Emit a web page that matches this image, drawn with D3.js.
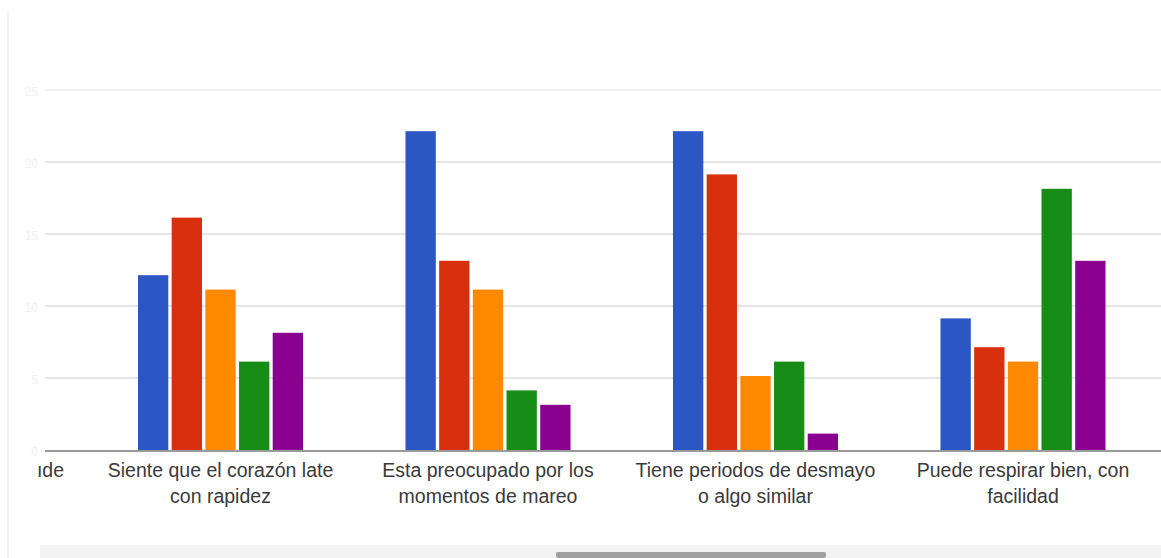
<!DOCTYPE html>
<html>
<head>
<meta charset="utf-8">
<script src="https://cdn.jsdelivr.net/npm/d3@7"></script>
<style>
  html, body { margin: 0; padding: 0; background: #fff; }
  svg { display: block; }
</style>
</head>
<body>
<svg id="chart" width="1161" height="558"></svg>
<script>
// ---- data ----
const categories = ["prev", "Siente", "Esta", "Tiene", "Puede"];
const categoryLabels = [
  ["ıde"],
  ["Siente que el corazón late", "con rapidez"],
  ["Esta preocupado por los", "momentos de mareo"],
  ["Tiene periodos de desmayo", "o algo similar"],
  ["Puede respirar bien, con", "facilidad"]
];
const seriesNames = ["s1", "s2", "s3", "s4", "s5"];
const seriesColors = ["#2b57c5", "#d8300f", "#ff8a00", "#178c17", "#8a0090"];
const s1 = [null, 12, 22, 22, 9];
const s2 = [null, 16, 13, 19, 7];
const s3 = [null, 11, 11, 5, 6];
const s4 = [null, 6, 4, 6, 18];
const s5 = [null, 8, 3, 1, 13];
const seriesValues = [s1, s2, s3, s4, s5];
const yTicks = [0, 5, 10, 15, 20, 25];

// ---- layout ----
const svg = d3.select("#chart");
const W = 1161, H = 558;
const plotLeft = 45, plotRight = 1161, baseY = 450, topY = 90;

const x0 = d3.scaleBand().domain(categories)
  .range([-180.75, 1156.75]).paddingInner(0.383).paddingOuter(0.1915);
const x1 = d3.scaleBand().domain(seriesNames)
  .range([0, x0.bandwidth()]).paddingInner(0.1);
const y = d3.scaleLinear().domain([0, 25]).range([baseY, topY]);

// frame line at left
svg.append("line").attr("x1", 8).attr("x2", 8).attr("y1", 12).attr("y2", H)
  .attr("stroke", "#f1f1f1").attr("stroke-width", 1.5);

// gridlines
const grid = svg.append("g");
grid.selectAll("line").data(yTicks.filter(d => d > 0)).join("line")
  .attr("x1", plotLeft).attr("x2", plotRight)
  .attr("y1", d => y(d)).attr("y2", d => y(d))
  .attr("stroke", d => d === 25 ? "#f0f0f0" : "#e6e6e6")
  .attr("stroke-width", 2);

// faint y labels
svg.append("g").selectAll("text").data(yTicks).join("text")
  .attr("x", 38).attr("y", d => y(d) + 6)
  .attr("text-anchor", "end")
  .attr("font-family", "Liberation Sans, Arial, sans-serif")
  .attr("font-size", 12).attr("fill", "#f0f0f0")
  .text(d => d);

// bars
const defs = svg.append("defs");
defs.append("clipPath").attr("id", "plotclip")
  .append("rect").attr("x", plotLeft).attr("y", 0).attr("width", plotRight - plotLeft).attr("height", H);

const barsG = svg.append("g").attr("clip-path", "url(#plotclip)");
categories.forEach((c, ci) => {
  const g = barsG.append("g").attr("transform", `translate(${x0(c)},0)`);
  seriesNames.forEach((s, si) => {
    const v = seriesValues[si][ci];
    if (v == null) return;
    g.append("rect")
      .attr("x", x1(s)).attr("width", x1.bandwidth())
      .attr("y", y(v) - 2).attr("height", y(0) - y(v) + 2)
      .attr("fill", seriesColors[si]);
  });
});

// baseline
svg.append("line").attr("x1", plotLeft).attr("x2", plotRight)
  .attr("y1", baseY + 1).attr("y2", baseY + 1)
  .attr("stroke", "#9a9a9a").attr("stroke-width", 2);

// category labels
defs.append("clipPath").attr("id", "labelclip")
  .append("rect").attr("x", 38).attr("y", 0).attr("width", W - 38).attr("height", H);
const labG = svg.append("g").attr("clip-path", "url(#labelclip)");
categories.forEach((c, ci) => {
  const lines = categoryLabels[ci];
  const cx = x0(c) + x0.bandwidth() / 2;
  const t = labG.append("text")
    .attr("font-family", "Liberation Sans, Arial, sans-serif")
    .attr("font-size", 19.5).attr("fill", "#3a3a3a");
  if (ci === 0) {
    t.attr("x", 64).attr("y", 477).attr("text-anchor", "end").text(lines[0]);
  } else {
    lines.forEach((ln, li) => {
      t.append("tspan").attr("x", cx).attr("y", 477 + li * 26)
        .attr("text-anchor", "middle").text(ln);
    });
  }
});

// scrollbar
svg.append("rect").attr("x", 40).attr("y", 545).attr("width", W - 40).attr("height", 13)
  .attr("fill", "#f3f3f3");
svg.append("rect").attr("x", 556).attr("y", 552).attr("width", 270).attr("height", 6)
  .attr("rx", 2).attr("fill", "#a0a0a0");
</script>
</body>
</html>
